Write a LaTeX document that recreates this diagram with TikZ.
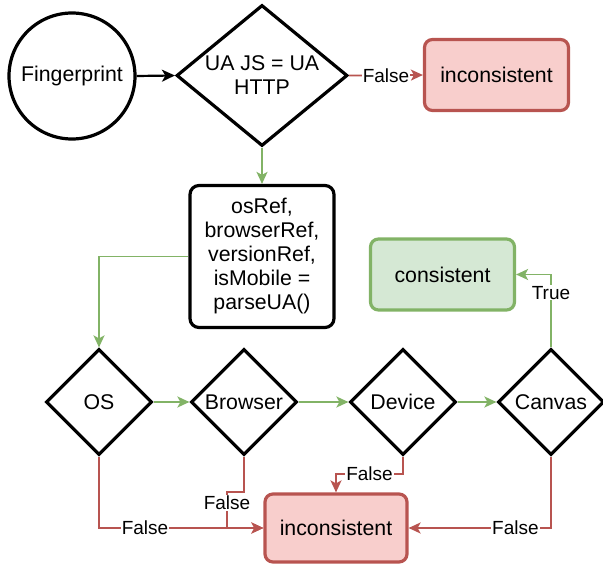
\documentclass[tikz,border=0pt]{standalone}
\usepackage{fontspec}
\setmainfont{Liberation Sans}
\usetikzlibrary{shapes.geometric,arrows.meta}
\definecolor{redline}{HTML}{B85450}
\definecolor{redfill}{HTML}{F8CECC}
\definecolor{greenline}{HTML}{82B366}
\definecolor{greenfill}{HTML}{D5E8D4}
\begin{document}
\begin{tikzpicture}[x=1pt, y=-1pt,
    every node/.style={font=\fontsize{21.3}{24}\selectfont, align=center, inner sep=0pt},
    shapebox/.style={draw, line width=3.2pt, rounded corners=8pt, minimum width=144pt, minimum height=71pt},
    decision/.style={draw, diamond, line width=3.2pt, minimum width=106pt, minimum height=106pt},
    badbox/.style={shapebox, draw=redline, fill=redfill},
    goodbox/.style={shapebox, draw=greenline, fill=greenfill},
    pass/.style={draw=greenline, line width=1.8pt, -{Stealth[length=12pt,width=11pt,inset=3pt]}},
    fail/.style={draw=redline, line width=1.8pt, -{Stealth[length=12pt,width=11pt,inset=3pt]}},
    lbl/.style={font=\fontsize{19}{22}\selectfont, fill=white, inner sep=1pt}]
\useasboundingbox (0,0) rectangle (603,564);
\node[draw, circle, line width=3.2pt, minimum size=126pt] (fp) at (72,76) {Fingerprint}; % start
\node[decision, aspect=1.207, minimum width=171pt, minimum height=141pt] (ua) at (262,75.5) {UA JS = UA\\HTTP}; % check.0
\node[badbox] (bad1) at (496.5,75) {inconsistent}; % end.0
\node[shapebox, minimum height=142pt, rounded corners=9pt] (parse) at (262,256.5) {osRef,\\browserRef,\\versionRef,\\isMobile =\\parseUA()}; % parse
\node[goodbox] (good) at (442.5,274.5) {consistent}; % end.1
\node[decision] (os) at (99,402) {OS}; % check.1
\node[decision] (browser) at (244,402) {Browser}; % check.2
\node[decision] (device) at (403,402) {Device}; % check.3
\node[decision] (canvas) at (551,402) {Canvas}; % check.4
\node[badbox, minimum width=142pt, minimum height=68pt] (bad2) at (336,528) {inconsistent}; % end.2
\coordinate (bj) at (227,492); % browser bend
\coordinate (dj) at (336,474); % device bend
\draw[line width=2.2pt, -{Stealth[length=13pt,width=12pt,inset=3.5pt]}] (fp.east) -- (ua.west); % fp-ua
\draw[fail] (ua.east) -- node[lbl] {False} (bad1.west); % ua-bad1
\draw[pass] (ua.south) -- (parse.north); % ua-parse
\draw[pass] (parse.west) -| (os.north); % parse-os
\draw[pass] (os.east) -- (browser.west); % os-browser
\draw[pass] (browser.east) -- (device.west); % browser-device
\draw[pass] (device.east) -- (canvas.west); % device-canvas
\draw[pass] (canvas.north) |- node[lbl, pos=0.375] {True} (good.east); % canvas-good
\draw[fail] (os.south) |- node[lbl, pos=0.64] {False} (bad2.west); % os-bad2
\draw[fail] (browser.south) |- (bj) |- node[lbl, pos=0.15] {False} (bad2.west); % browser-bad2
\draw[fail] (device.south) |- node[lbl, pos=0.75] {False} (dj) -- (bad2.north); % device-bad2
\draw[fail] (canvas.south) |- node[lbl, pos=0.625] {False} (bad2.east); % canvas-bad2
\end{tikzpicture}
\end{document}
